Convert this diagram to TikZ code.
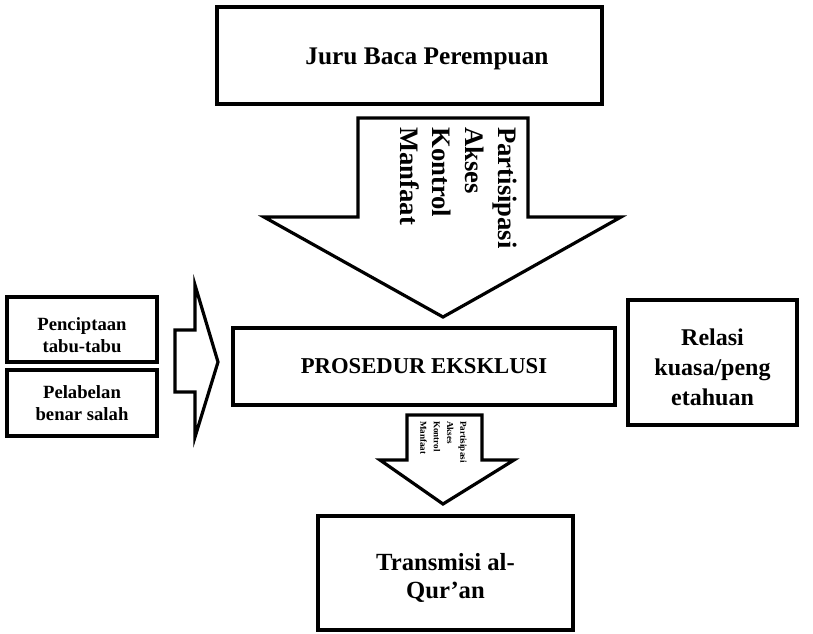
\documentclass[tikz,border=0pt]{standalone}
\usepackage{fontspec}
\setmainfont{Liberation Serif}

\begin{document}
\begin{tikzpicture}[x=0.75pt,y=0.75pt,yscale=-1,xscale=1,
  box/.style={draw, line width=3pt, inner sep=0pt, align=center},
  blockarrow/.style={draw, line width=2.4pt, line join=miter, fill=white},
  arrowtext/.style={rotate=-90, anchor=north west, align=left, inner sep=0pt}]
\useasboundingbox (0,0) rectangle (813,633);

%Shape: Rectangle
\node[box, minimum width=288.75pt, minimum height=72.75pt] (juru) at (409.5,55.5) {};
% Text Node
\node[inner sep=0pt, font=\bfseries\fontsize{19}{22}\selectfont] (jurutext) at (427,59) {Juru Baca Perempuan};

%Shape: Down Arrow
\draw[blockarrow] (358,118) -- (528,118) -- (528,217) -- (621,217) -- (443,317) -- (264,217) -- (358,217) -- cycle;
% Text Node
\node[arrowtext, font=\bfseries\fontsize{20}{24.5}\selectfont] (akses) at (517,127) {Partisipasi\\Akses\\Kontrol\\Manfaat};

%Shape: Rectangle
\node[box, minimum width=286.5pt, minimum height=57.75pt, font=\bfseries\fontsize{17}{20}\selectfont] (prosedur) at (424,366.5) {PROSEDUR EKSKLUSI};

%Shape: Rectangle
\node[box, minimum width=126.75pt, minimum height=93.75pt] (relasi) at (712.5,362.5) {};
% Text Node
\node[align=center, inner sep=0pt, font=\bfseries\fontsize{18}{22.5}\selectfont] (relasitext) at (712.5,367) {Relasi\\kuasa/peng\\etahuan};

%Shape: Rectangle
\node[box, minimum width=112.5pt, minimum height=48.75pt] (tabu) at (82,329.5) {};
% Text Node
\node[align=center, inner sep=0pt, font=\bfseries\fontsize{14}{16.5}\selectfont] (tabutext) at (82,335) {Penciptaan\\tabu-tabu};
%Shape: Rectangle
\node[box, minimum width=112.5pt, minimum height=49.5pt, font=\bfseries\fontsize{14}{16.5}\selectfont] (label) at (82,403) {Pelabelan\\benar salah};

%Shape: Right Arrow
\draw[blockarrow] (175,330) -- (195,330) -- (195,285) -- (218,362) -- (195,437) -- (195,392) -- (175,392) -- cycle;

%Shape: Down Arrow
\draw[blockarrow] (407,415) -- (482,415) -- (482,460) -- (514,460) -- (443,504) -- (380,460) -- (407,460) -- cycle;
% Text Node
\node[arrowtext, font=\bfseries\fontsize{6.8}{10}\selectfont] (akseskecil) at (467,421) {Partisipasi\\Akses\\Kontrol\\Manfaat};

%Shape: Rectangle
\node[box, minimum width=191.25pt, minimum height=85.5pt] (transmisi) at (445.5,573) {};
% Text Node
\node[align=center, inner sep=0pt, font=\bfseries\fontsize{18.5}{20.5}\selectfont] (transmisitext) at (445.5,578) {Transmisi al-\\Qur'an};

\end{tikzpicture}
\end{document}
